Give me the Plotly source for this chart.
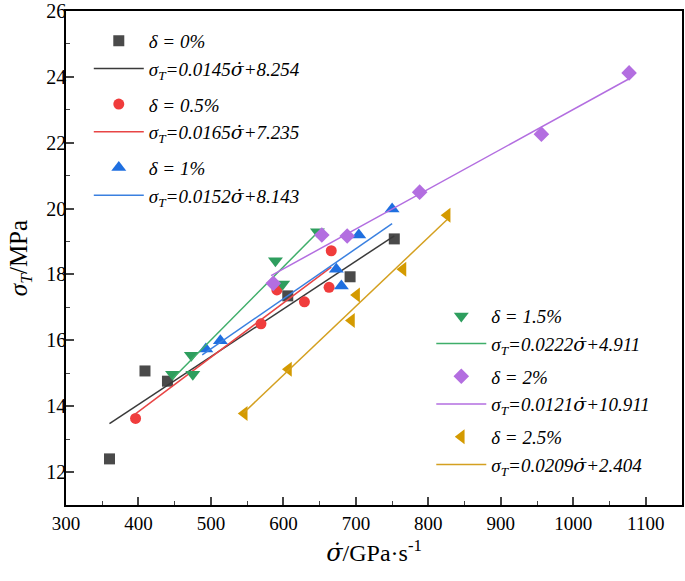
import plotly.graph_objects as go

# ---- data ----
series_names = ["0%", "0.5%", "1%", "1.5%", "2%", "2.5%"]
x0 = [360, 409, 440, 606, 692, 753]
y0 = [12.40, 15.07, 14.76, 17.35, 17.93, 19.08]
x05 = [396, 569, 591, 629, 663, 666]
y05 = [13.63, 16.50, 17.53, 17.17, 17.61, 18.72]
x1 = [493, 513, 673, 680, 704, 750]
y1 = [15.74, 15.99, 18.16, 17.65, 19.20, 19.99]
x15 = [447, 473, 475, 589, 599, 647]
y15 = [14.97, 15.55, 14.97, 18.42, 17.71, 19.30]
x2 = [586, 653, 688, 788, 956, 1077]
y2 = [17.73, 19.20, 19.17, 20.50, 22.26, 24.12]
x25 = [546, 607, 694, 701, 765, 826]
y25 = [13.78, 15.12, 16.60, 17.38, 18.16, 19.80]
slopes = [0.0145, 0.0165, 0.0152, 0.0222, 0.0121, 0.0209]
intercepts = [8.254, 7.235, 8.143, 4.911, 10.911, 2.404]
line_x_start = [360, 394, 488, 447, 583, 545]

xs = [x0, x05, x1, x15, x2, x25]
ys = [y0, y05, y1, y15, y2, y25]
marker_colors = ["#4a4a4a", "#f03c3c", "#1f6fe0", "#2e9e5e", "#b36ee0", "#d49a00"]
line_colors = ["#3a3a3a", "#e84545", "#3a80e0", "#3fae6a", "#b36ee0", "#d4a020"]
symbols = ["square", "circle", "triangle-up", "triangle-down", "diamond", "triangle-left"]
msizes = [11, 11, 13, 13, 12, 13]

FONT = "Liberation Serif"
SDOT = "<span style=\"font-family:'DejaVu Serif'\">σ̇</span>"

fig = go.Figure()
for i in range(6):
    leg = "legend" if i < 3 else "legend2"
    fig.add_trace(go.Scatter(
        x=xs[i], y=ys[i], mode="markers", name="<i>δ = %s</i>" % series_names[i],
        marker=dict(symbol=symbols[i], size=msizes[i], color=marker_colors[i]),
        legend=leg, legendgroup="g%d" % i))
    xa = line_x_start[i]
    xb = max(xs[i])
    fig.add_trace(go.Scatter(
        x=[xa, xb], y=[slopes[i] * xa + intercepts[i], slopes[i] * xb + intercepts[i]],
        mode="lines",
        name="<i>σ<sub>T</sub>=%s%s+%s</i>" % (("%g" % slopes[i]), SDOT, ("%g" % intercepts[i])),
        line=dict(color=line_colors[i], width=1.5),
        legend=leg, legendgroup="g%d" % i))

legend_common = dict(font=dict(family=FONT, size=19, color="black"), bgcolor="rgba(0,0,0,0)",
                     itemwidth=50, traceorder="grouped")
fig.update_layout(
    width=685, height=581,
    margin=dict(l=66, r=3, t=11, b=76, autoexpand=False),
    plot_bgcolor="white", paper_bgcolor="white",
    font=dict(family=FONT, size=19, color="black"),
    legend=dict(x=0.037, y=0.978, xanchor="left", yanchor="top", tracegroupgap=8, **legend_common),
    legend2=dict(x=0.593, y=0.421, xanchor="left", yanchor="top", tracegroupgap=5, **legend_common),
    xaxis=dict(range=[300, 1150], dtick=100, tick0=300, ticks="inside", ticklen=8, tickwidth=1.5,
               showline=True, linewidth=1.5, linecolor="black", mirror=True, showgrid=False,
               zeroline=False, tickfont=dict(family=FONT, size=19), ticklabeloverflow="allow",
               automargin=False,
               minor=dict(dtick=50, ticks="inside", ticklen=4, tickwidth=1.2),
               title=dict(text="<i>" + SDOT + "</i>/GPa·s<sup>-1</sup>",
                          font=dict(family=FONT, size=24), standoff=12)),
    yaxis=dict(range=[11, 26], dtick=2, tick0=12, ticks="inside", ticklen=8, tickwidth=1.5,
               showline=True, linewidth=1.5, linecolor="black", mirror=True, showgrid=False,
               zeroline=False, tickfont=dict(family=FONT, size=20), ticklabeloverflow="allow",
               ticklabelstandoff=-6, automargin=False,
               minor=dict(dtick=1, ticks="inside", ticklen=4, tickwidth=1.2),
               title=dict(text="<i>σ<sub>T</sub></i>/MPa", font=dict(family=FONT, size=25), standoff=12)),
)
fig.write_html("out.html", post_script="document.body.style.margin='0';",
               config={"displayModeBar": False})
